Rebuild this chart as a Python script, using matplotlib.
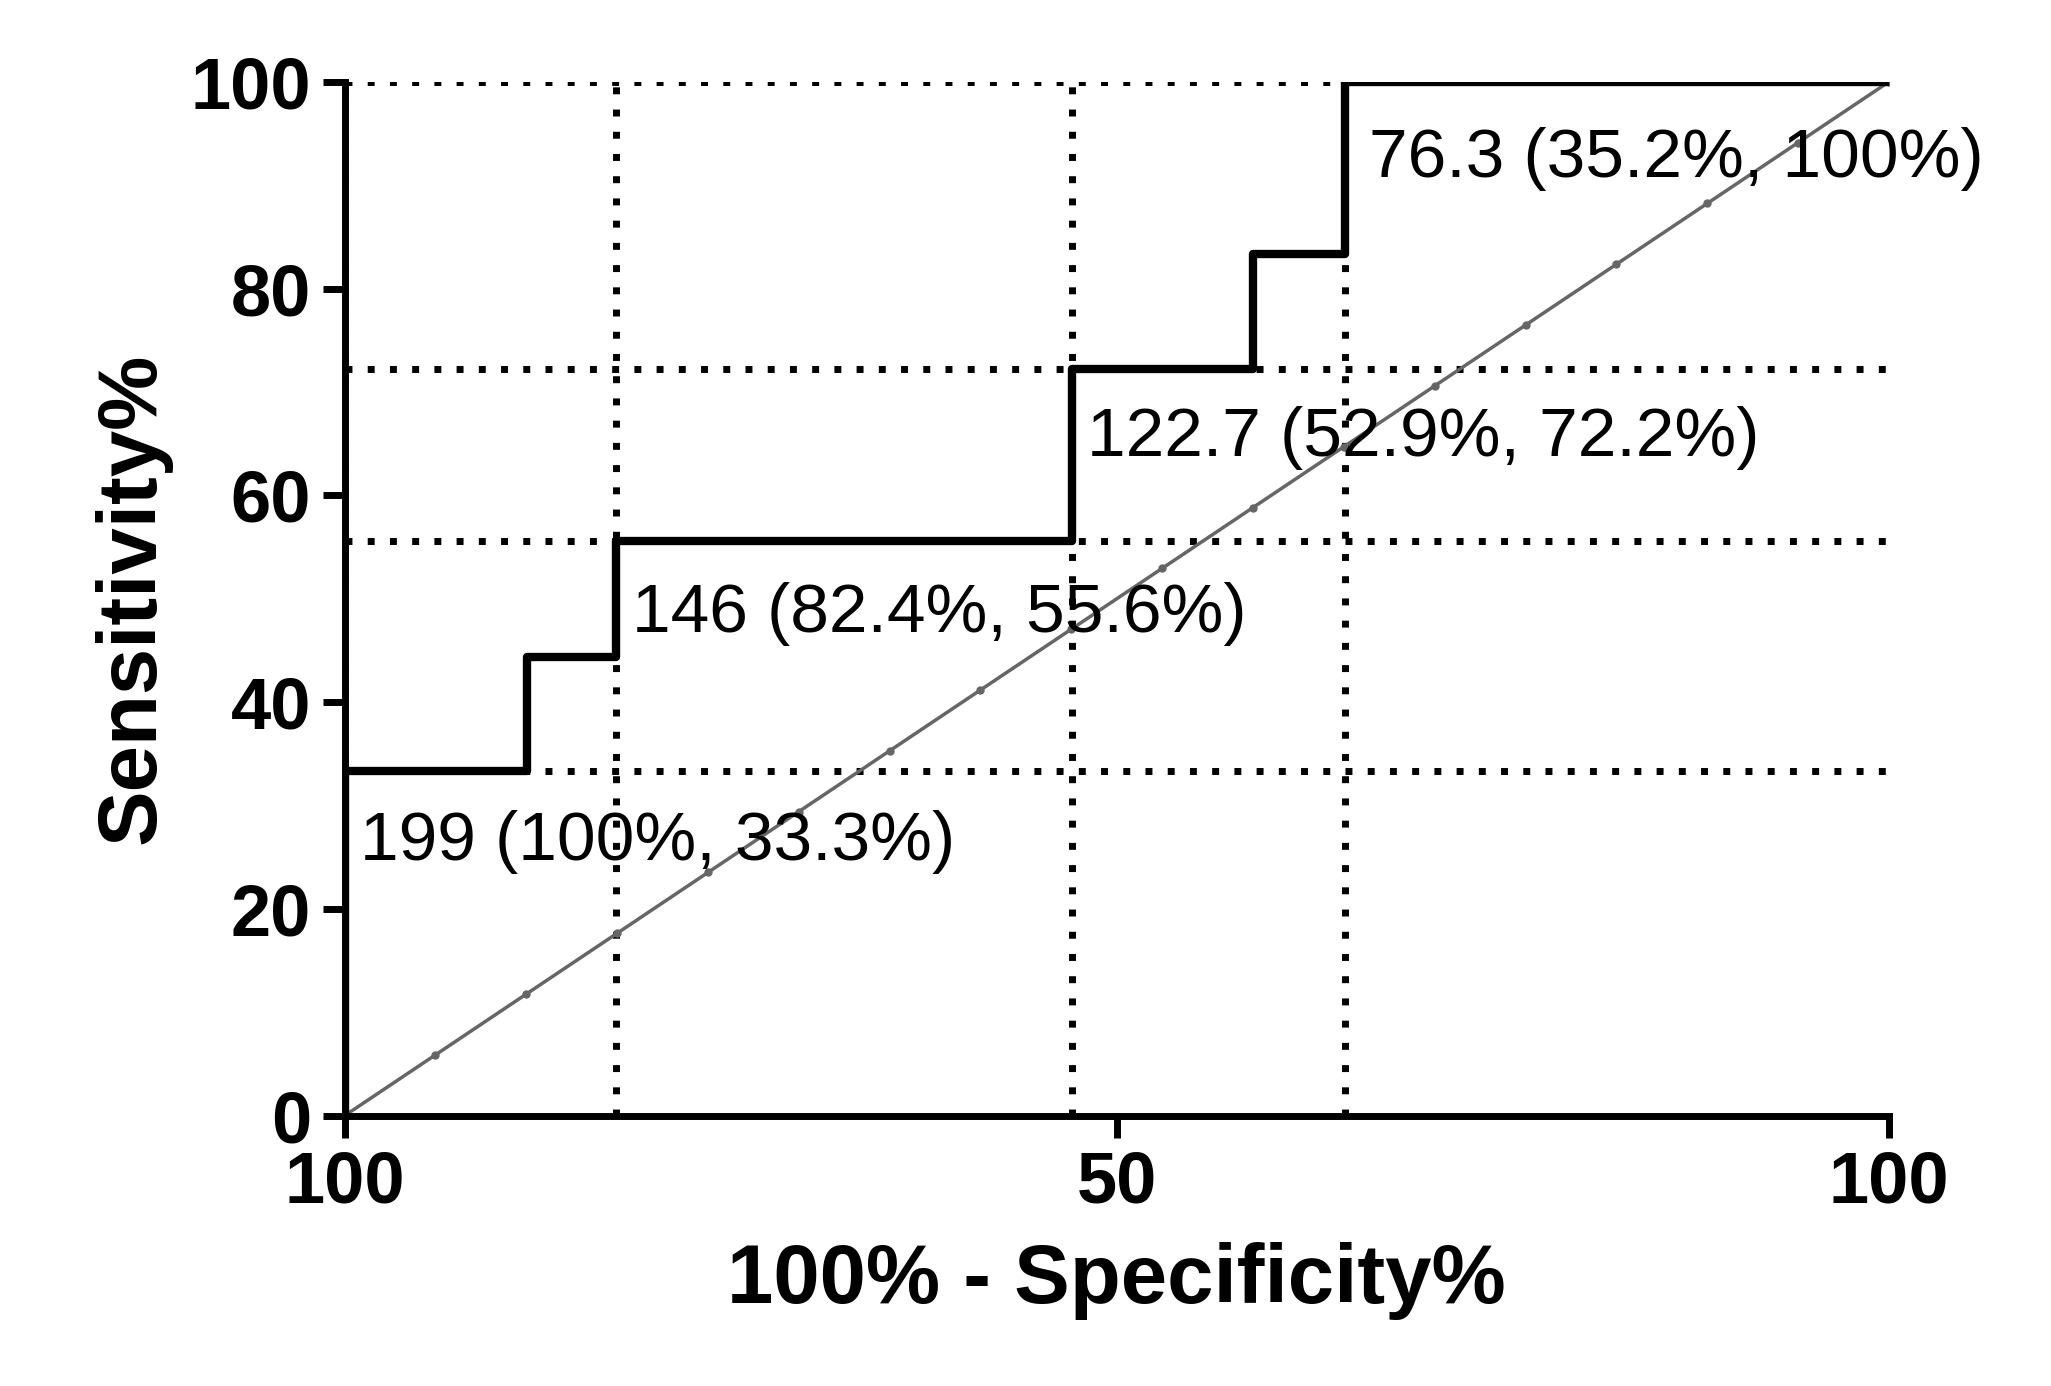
import matplotlib

matplotlib.use("Agg")
import matplotlib.pyplot as plt
import numpy as np

plt.rcParams["font.family"] = ["Liberation Sans", "DejaVu Sans"]

# ROC step curve (100% - specificity, sensitivity)
roc_x = [0, 0, 11.8, 11.8, 17.6, 17.6, 47.1, 47.1, 58.8, 58.8, 64.8, 64.8, 100]
roc_y = [0, 33.3, 33.3, 44.4, 44.4, 55.6, 55.6, 72.2, 72.2, 83.3, 83.3, 100, 100]

guide_x = [0, 17.6, 47.1, 64.8]
guide_y = [33.3, 55.6, 72.2, 100]

diag = np.arange(0, 18) / 17 * 100

labels = ["199 (100%, 33.3%)", "146 (82.4%, 55.6%)",
          "122.7 (52.9%, 72.2%)", "76.3 (35.2%, 100%)"]
label_pos = [(1, 26.5), (18.6, 48.5), (48.1, 65.5), (66.3, 92.5)]

fig = plt.figure(figsize=(20.51, 13.86), dpi=100)
ax = fig.add_axes([0.168, 0.195, 0.753, 0.746])

for gx in guide_x:
    ax.plot([gx, gx], [0, 100], color="black", lw=5, ls=(0, (1, 2.2)), zorder=1)
for gy in guide_y:
    ax.plot([0, 100], [gy, gy], color="black", lw=5, ls=(0, (1, 2.2)), zorder=1)

ax.plot(diag, diag, color="#666666", lw=2.5, marker="o", markersize=5, zorder=2)
ax.plot(roc_x, roc_y, color="black", lw=6, zorder=3)

for text, (tx, ty) in zip(labels, label_pos):
    ax.text(tx, ty, text, fontsize=50, ha="left", va="center", zorder=4)

ax.set_xlim(0, 100)
ax.set_ylim(0, 100)
ax.set_xticks([0, 50, 100])
ax.set_xticklabels(["100", "50", "100"])
ax.set_yticks([0, 20, 40, 60, 80, 100])
for spine in ["top", "right"]:
    ax.spines[spine].set_visible(False)
for spine in ["left", "bottom"]:
    ax.spines[spine].set_linewidth(5)
ax.tick_params(width=5, length=16, labelsize=52, pad=8)
for lab in ax.get_xticklabels() + ax.get_yticklabels():
    lab.set_fontweight("bold")
ax.set_xlabel("100% - Specificity%", fontsize=60, fontweight="bold", labelpad=18)
ax.set_ylabel("Sensitivity%", fontsize=60, fontweight="bold", labelpad=14)

fig.savefig("out.png", dpi=100)
